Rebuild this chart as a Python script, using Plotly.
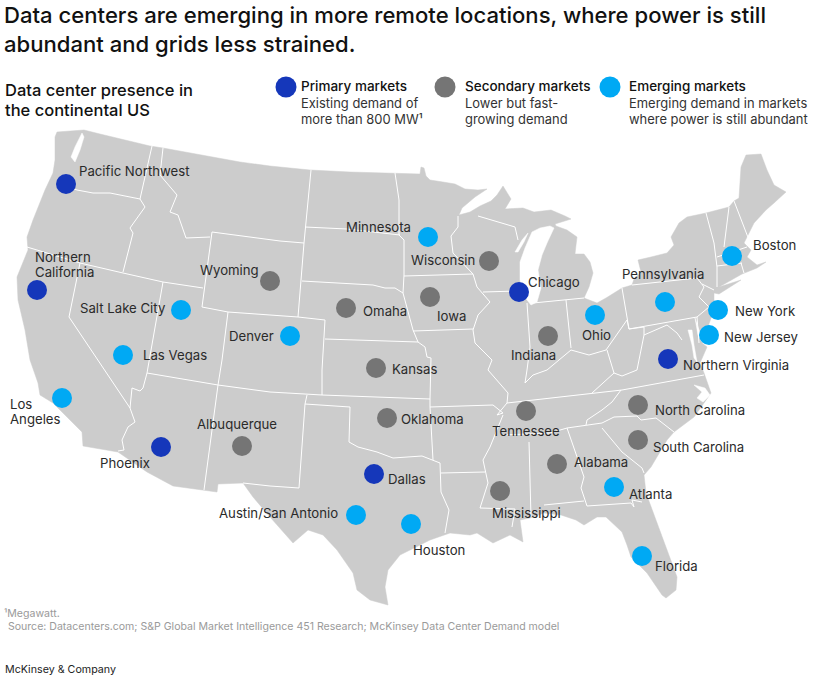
import plotly.graph_objects as go

# Map geometry, in picture units
land = [(57,132),(70,131),(84,130),(100,134),(120,139),(150,146),(163,148),(200,155),(240,162),(270,166),(310,170),(350,172),
        (395,173),(420,174),(421,167),(424,168),(426,176),(430,180),(443,182),(455,184),(465,189),(478,190),(487,189),
        (475,197),(462,208),(459,215),(470,212),(480,206),(491,201),(497,195),(503,186),(511,199),(505,209),(523,208),
        (534,212),(551,210),(565,216),(571,219),(555,224),(556,226),(567,230),(577,237),(576,245),(575,254),(584,254),
        (590,262),(593,273),(589,287),(584,298),(597,303),(606,298),(622,288),(632,285),(634,279),(641,272),(638,260),
        (651,257),(667,253),(674,245),(671,237),(679,223),(687,217),(706,213),(729,207),(734,201),(739,198),(741,167),
        (746,155),(761,154),(767,170),(774,185),(786,192),(774,203),(766,210),(754,223),(747,237),(744,243),(751,250),
        (747,257),(757,265),(766,262),(757,268),(747,272),(742,274),(719,287),(741,280),(719,294),(714,293),(714,310),
        (707,330),(702,343),(707,347),(700,363),(704,373),(711,393),(704,403),(694,417),(674,432),(667,440),(651,467),
        (644,475),(646,493),(661,533),(667,550),(677,577),(676,590),(666,598),(662,595),(647,573),(641,567),(631,557),
        (627,545),(622,532),(606,517),(597,517),(584,525),(576,520),(561,515),(544,513),(530,518),(520,520),(523,542),
        (510,535),(493,543),(477,533),(470,535),(450,533),(430,540),(400,555),(388,570),(385,587),(388,605),(370,600),
        (357,590),(353,573),(337,550),(323,535),(308,530),(293,543),(270,517),(253,497),(243,483),(218,484),(217,492),
        (203,490),(173,486),(147,472),(118,452),(83,446),(82,432),(67,417),(53,403),(40,395),(38,383),(30,360),(25,330),
        (18,300),(17,277),(28,250),(27,237),(33,220),(45,190),(53,173),(55,160),(55,137)]

water = [
    [(82,133),(75,147),(71,157),(75,162),(80,150),(84,137)],
    [(550,226),(540,228),(532,232),(525,248),(520,262),(520,280),(524,296),(531,305),(537,302),(541,288),(538,270),(542,255),(547,243),(554,228)],
    [(515,252),(522,240),(528,233),(524,242),(518,252)],
    [(688,330),(692,345),(694,358),(697,362),(694,345),(692,330)],
    [(695,318),(700,333),(702,342),(698,335)],
    [(694,385),(705,388),(710,395),(703,402),(697,398),(702,392)],
]

borders = [
    [(152,146),(140,199)],
    [(60,184),(77,190),(93,193),(110,193),(140,199),(145,207),(130,228),(133,233),(123,272)],
    [(163,148),(160,175),(177,195),(170,212),(178,215),(186,238),(210,237)],
    [(212,232),(280,241),(304,243),(298,317),(228,312),(202,307),(212,232)],
    [(27,247),(80,263),(123,273),(163,282),(203,288)],
    [(80,263),(69,317),(130,408),(132,388),(140,391),(143,388),(147,373),(163,282)],
    [(147,373),(218,385),(270,392),(322,395),(430,399)],
    [(298,317),(325,320),(322,370),(322,395)],
    [(228,312),(222,360),(218,385),(204,490)],
    [(130,408),(135,422),(128,427),(122,440),(124,450),(118,451)],
    [(311,170),(305,227),(304,243)],
    [(305,227),(347,229),(400,235)],
    [(302,281),(373,285),(385,288),(395,288),(403,293),(413,330),(418,342),(425,347),(427,357),(431,358),(430,399),(430,407),(433,460)],
    [(325,339),(418,342)],
    [(395,173),(399,200),(399,235),(404,240),(404,275),(403,293)],
    [(404,276),(473,274)],
    [(458,216),(458,227),(451,236),(453,253),(473,274),(477,287),(490,302),(478,315),(473,330),(475,343),(492,360),(488,370),(508,393),(507,403),(497,415),(503,413),(493,405),(430,407)],
    [(483,292),(518,291)],
    [(413,331),(473,329)],
    [(478,216),(515,227),(518,240)],
    [(527,303),(530,347),(527,370),(525,383),(533,375),(547,370),(571,350),(589,355),(606,350),(627,320),(629,329)],
    [(533,303),(566,300),(584,298)],
    [(566,300),(571,348)],
    [(622,288),(629,329),(697,317),(709,307),(699,297),(704,287),(697,278),(632,285)],
    [(702,284),(714,290)],
    [(697,317),(699,343)],
    [(629,329),(644,327),(644,335),(660,328),(667,325),(677,333),(682,340)],
    [(644,335),(637,370),(622,376),(614,373),(607,350)],
    [(614,373),(592,393)],
    [(507,403),(549,398),(592,393),(622,390),(704,375)],
    [(503,435),(550,433),(567,428),(586,425),(602,423),(614,417),(637,416),(641,420),(656,418),(674,432)],
    [(503,415),(490,447),(483,460),(488,483),(480,508),(515,509),(512,527)],
    [(441,473),(485,472)],
    [(349,442),(358,447),(377,452),(393,458),(422,456),(440,463),(441,492),(449,510),(445,533)],
    [(307,395),(305,404),(350,407),(349,442)],
    [(305,404),(299,488),(270,486),(243,483)],
    [(529,442),(531,517)],
    [(567,428),(584,477),(581,488),(587,506),(631,503),(634,507),(632,500),(642,502)],
    [(544,505),(584,501)],
    [(602,428),(622,452),(642,468),(644,473)],
    [(586,425),(587,420),(602,410),(612,402),(621,390)],
    [(706,213),(714,243),(717,267),(717,287)],
    [(729,207),(725,237),(724,247)],
    [(717,257),(747,247)],
    [(717,266),(742,263)],
    [(741,263),(744,273)],
    [(734,201),(749,240)],
]

# Markets
primary_names = ["Pacific Northwest", "Northern<br>California", "Phoenix", "Dallas", "Chicago", "Northern Virginia"]
primary_x = [66, 37, 161, 374, 519, 668]
primary_y = [184, 290, 447, 474, 292, 359]

secondary_names = ["Albuquerque", "Wyoming", "Omaha", "Kansas", "Oklahoma", "Wisconsin", "Iowa", "Indiana",
                   "North Carolina", "South Carolina", "Tennessee", "Alabama", "Mississippi"]
secondary_x = [242, 270, 346, 376, 387, 489, 430, 548, 638, 638, 526, 557, 500]
secondary_y = [446, 281, 308, 368, 418, 261, 297, 336, 405, 440, 411, 464, 491]

emerging_names = ["Salt Lake City", "Las Vegas", "Los<br>Angeles", "Denver", "Austin/San Antonio", "Houston", "Minnesota",
                  "Ohio", "Pennsylvania", "Boston", "New York", "New Jersey", "Atlanta", "Florida"]
emerging_x = [181, 123, 62, 290, 356, 411, 428, 595, 665, 732, 718, 709, 614, 642]
emerging_y = [310, 355, 398, 336, 515, 524, 237, 315, 302, 256, 310, 335, 487, 556]

# Where each label starts (left edge, middle)
label_pos = {
    "Pacific Northwest": (79, 171), "Northern<br>California": (35, 264), "Phoenix": (100, 463),
    "Dallas": (388, 479), "Chicago": (528, 282), "Northern Virginia": (683, 365),
    "Albuquerque": (197, 424), "Wyoming": (200, 270), "Omaha": (363, 311), "Kansas": (392, 369),
    "Oklahoma": (401, 419), "Wisconsin": (411, 260), "Iowa": (437, 316), "Indiana": (511, 355),
    "North Carolina": (655, 410), "South Carolina": (653, 447), "Tennessee": (492, 431),
    "Alabama": (574, 462), "Mississippi": (492, 513), "Salt Lake City": (80, 308), "Las Vegas": (143, 355),
    "Los<br>Angeles": (10, 411), "Denver": (229, 336), "Austin/San Antonio": (219, 513), "Houston": (413, 550),
    "Minnesota": (346, 227), "Ohio": (582, 335), "Pennsylvania": (622, 274), "Boston": (753, 245),
    "New York": (735, 311), "New Jersey": (724, 337), "Atlanta": (629, 494), "Florida": (655, 566),
}

legend_titles = ["Primary markets", "Secondary markets", "Emerging markets"]
legend_texts = ["Existing demand of<br>more than 800 MW¹", "Lower but fast-<br>growing demand",
                "Emerging demand in markets<br>where power is still abundant"]
legend_dot_x = [286, 445, 610]
legend_text_x = [301, 465, 629]

BLUE = "#1537BA"
GREY = "#757575"
CYAN = "#00A9F4"
LAND = "#CCCCCC"
FONT = "Inter"
INK = "#2A2A2A"

fig = go.Figure()

# Land
fig.add_trace(go.Scatter(x=[p[0] for p in land] + [land[0][0]], y=[p[1] for p in land] + [land[0][1]],
                         mode="lines", fill="toself", fillcolor=LAND, line=dict(color=LAND, width=0.5)))

# Lakes and bays
for poly in water:
    fig.add_trace(go.Scatter(x=[p[0] for p in poly] + [poly[0][0]], y=[p[1] for p in poly] + [poly[0][1]],
                             mode="lines", fill="toself", fillcolor="white", line=dict(color="white", width=0.5)))

# State lines
bx, by = [], []
for line in borders:
    bx += [p[0] for p in line] + [None]
    by += [p[1] for p in line] + [None]
fig.add_trace(go.Scatter(x=bx, y=by, mode="lines", line=dict(color="white", width=1)))

# Market dots
for xs, ys, color in [(primary_x, primary_y, BLUE), (secondary_x, secondary_y, GREY), (emerging_x, emerging_y, CYAN)]:
    fig.add_trace(go.Scatter(x=xs, y=ys, mode="markers", marker=dict(size=20, color=color, line=dict(width=0))))

# Legend dots
fig.add_trace(go.Scatter(x=legend_dot_x, y=[87, 87, 87], mode="markers",
                         marker=dict(size=21, color=[BLUE, GREY, CYAN], line=dict(width=0))))


def note(x, y, text, size=13.2, color=INK, weight=400):
    fig.add_annotation(x=x, y=y, text=text, showarrow=False, xanchor="left", yanchor="middle", align="left",
                       xref="x", yref="y", font=dict(family=FONT, size=size, color=color, weight=weight),
                       borderpad=0, borderwidth=0)


for name in primary_names + secondary_names + emerging_names:
    x, y = label_pos[name]
    if "<br>" in name:
        top, bottom = name.split("<br>")
        note(x, y - 7.5, top)
        note(x, y + 8, bottom)
    else:
        note(x, y, name)

note(4, 15, "Data centers are emerging in more remote locations, where power is still", size=22.1, color="#111111", weight=500)
note(4, 44, "abundant and grids less strained.", size=22.1, color="#111111", weight=500)
note(5, 90, "Data center presence in", size=16.5, color="#111111", weight=500)
note(5, 110, "the continental US", size=16.5, color="#111111", weight=500)

for tx, title, body in zip(legend_text_x, legend_titles, legend_texts):
    note(tx, 86, title, size=13.5, color="#111111", weight=500)
    first, second = body.split("<br>")
    note(tx, 103, first, size=12.95, color="#333333")
    note(tx, 119, second, size=12.95, color="#333333")

note(4, 613, "¹Megawatt.", size=10.6, color="#9A9A9A")
note(8, 626, "Source: Datacenters.com; S&P Global Market Intelligence 451 Research; McKinsey Data Center Demand model", size=10.55, color="#9A9A9A")
note(5, 669, "McKinsey & Company", size=10.7, color="#222222")

fig.update_layout(
    width=814,
    height=682,
    margin=dict(l=0, r=0, t=0, b=0),
    paper_bgcolor="white",
    plot_bgcolor="white",
    showlegend=False,
    hovermode=False,
    xaxis=dict(range=[0, 814], visible=False, fixedrange=True),
    yaxis=dict(range=[682, 0], visible=False, fixedrange=True),
)

fig.write_html("out.html", config=dict(displayModeBar=False),
               post_script="document.body.style.margin='0';document.body.style.overflow='hidden';")
